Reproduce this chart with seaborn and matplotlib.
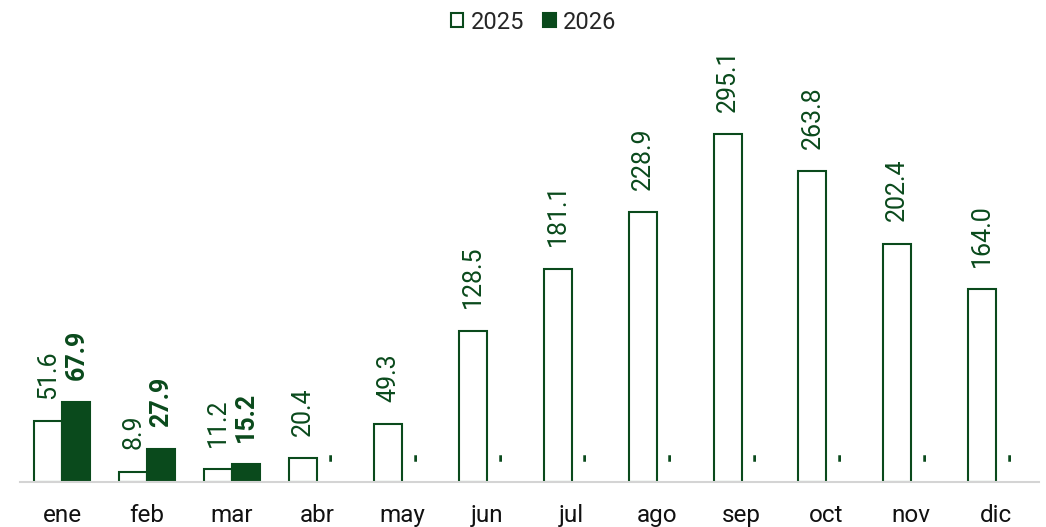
import numpy as np
import pandas as pd
import matplotlib.pyplot as plt
import seaborn as sns
from matplotlib.patches import Patch

# monthly values, 2025 vs 2026
meses = ['ene', 'feb', 'mar', 'abr', 'may', 'jun', 'jul', 'ago', 'sep', 'oct', 'nov', 'dic']
v2025 = [51.6, 8.9, 11.2, 20.4, 49.3, 128.5, 181.1, 228.9, 295.1, 263.8, 202.4, 164.0]
v2026 = [67.9, 27.9, 15.2] + [np.nan] * 9

green = '#0a4a1c'

df = pd.DataFrame({
    'mes': meses * 2,
    'valor': v2025 + v2026,
    'año': ['2025'] * 12 + ['2026'] * 12,
})

sns.set_style('white')
plt.rcParams['font.family'] = ['Roboto', 'DejaVu Sans']

fig = plt.figure(figsize=(10.46, 5.27), dpi=100)
ax = fig.add_axes([0.019, 0.0854, 0.974, 0.76])

width = 0.66
sns.barplot(data=df, x='mes', y='valor', hue='año', order=meses, hue_order=['2025', '2026'],
            palette=['white', green], edgecolor=green, linewidth=1.5, width=width,
            saturation=1, legend=False, ax=ax)

# value labels
c25, c26 = ax.containers[0], ax.containers[1]
ax.bar_label(c25, labels=[f'{v:.1f}' for v in v2025], rotation=90, padding=16,
             color=green, fontsize=18)
lab26 = [f'{v:.1f}' for v in v2026 if not np.isnan(v)]
ax.bar_label(c26, labels=lab26, rotation=90, padding=16, color=green,
             fontsize=18, fontweight='bold')
# dash for months without 2026 data
for i, v in enumerate(v2026):
    if np.isnan(v):
        ax.annotate('-', (i + width / 4, 0), xytext=(0, 15), textcoords='offset points',
                    rotation=90, ha='center', va='bottom', color=green, fontsize=17,
                    fontweight='bold')

ax.set_ylim(0, 340)
ax.set_xlim(-0.5, 11.5)
ax.set_xlabel('')
ax.set_ylabel('')
ax.set_yticks([])
ax.tick_params(axis='x', length=0, labelsize=17.5, pad=16, labelcolor='#111111')
for s in ['top', 'right', 'left']:
    ax.spines[s].set_visible(False)
ax.spines['bottom'].set_color('#d4d4d4')
ax.spines['bottom'].set_linewidth(1.5)

handles = [Patch(facecolor='white', edgecolor=green, linewidth=1.5, label='2025'),
           Patch(facecolor=green, edgecolor=green, linewidth=1.5, label='2026')]
fig.legend(handles=handles, loc='upper center', bbox_to_anchor=(0.51, 1.02), ncol=2,
           frameon=False, fontsize=17, handlelength=0.55, handleheight=0.55,
           handletextpad=0.3, columnspacing=0.8)

fig.savefig('out.png', dpi=100)
